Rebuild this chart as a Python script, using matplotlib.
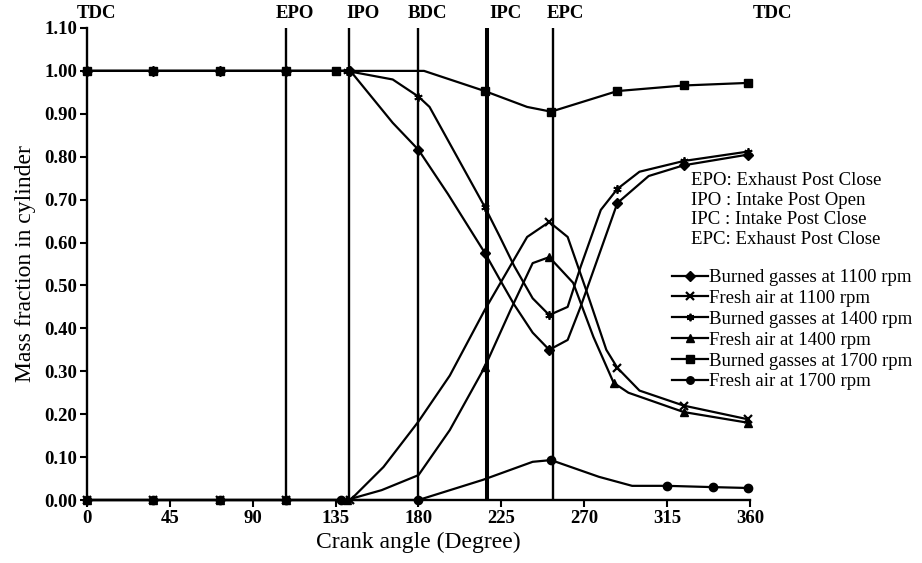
import numpy as np
import matplotlib.pyplot as plt

plt.rcParams['font.family'] = ['Liberation Serif', 'DejaVu Serif']

# crank angle events
event_names = ["TDC", "EPO", "IPO", "BDC", "IPC", "EPC", "TDC"]
event_deg = [0, 108, 142, 180, 217, 253, 360]
event_label_x = [5, 113, 150, 185, 227, 260, 372]

# burned gasses at 1100 rpm
bg1100_x = [0, 36, 72, 108, 143, 166, 180, 196, 216, 224, 232, 242, 251, 261, 268, 279, 288, 305, 324, 359]
bg1100_y = [1, 1, 1, 1, 1, 0.879, 0.816, 0.713, 0.576, 0.515, 0.455, 0.39, 0.35, 0.373, 0.45, 0.583, 0.692, 0.755, 0.78, 0.805]
bg1100_mk = [0, 1, 2, 3, 4, 6, 8, 12, 16, 18, 19]

# fresh air at 1100 rpm
fa1100_x = [0, 36, 72, 108, 143, 161, 180, 197, 216, 239, 251, 261, 271, 282, 288, 300, 324, 359]
fa1100_y = [0, 0, 0, 0, 0, 0.077, 0.183, 0.29, 0.443, 0.613, 0.648, 0.613, 0.49, 0.35, 0.308, 0.255, 0.22, 0.188]
fa1100_mk = [0, 1, 2, 3, 4, 10, 14, 16, 17]

# burned gasses at 1400 rpm
bg1400_x = [0, 36, 72, 108, 141, 166, 180, 186, 216, 224, 232, 242, 251, 261, 268, 279, 288, 300, 324, 359]
bg1400_y = [1, 1, 1, 1, 1, 0.98, 0.94, 0.916, 0.683, 0.615, 0.545, 0.47, 0.431, 0.45, 0.543, 0.676, 0.725, 0.765, 0.79, 0.812]
bg1400_mk = [0, 1, 2, 3, 4, 6, 8, 12, 16, 18, 19]

# fresh air at 1400 rpm
fa1400_x = [0, 36, 72, 108, 141, 160, 180, 197, 216, 230, 242, 251, 264, 275, 286, 294, 324, 359]
fa1400_y = [0, 0, 0, 0, 0, 0.023, 0.058, 0.163, 0.31, 0.443, 0.552, 0.566, 0.506, 0.38, 0.273, 0.25, 0.205, 0.18]
fa1400_mk = [0, 1, 2, 3, 4, 8, 11, 14, 16, 17]

# burned gasses at 1700 rpm
bg1700_x = [0, 36, 72, 108, 135, 183, 216, 239, 252, 288, 324, 359]
bg1700_y = [1, 1, 1, 1, 1, 1, 0.953, 0.916, 0.905, 0.953, 0.966, 0.972]
bg1700_mk = [0, 1, 2, 3, 4, 6, 8, 9, 10, 11]

# fresh air at 1700 rpm
fa1700_x = [0, 36, 72, 108, 138, 180, 215, 242, 252, 278, 296, 315, 340, 359]
fa1700_y = [0, 0, 0, 0, 0, 0, 0.047, 0.089, 0.093, 0.054, 0.033, 0.033, 0.03, 0.028]
fa1700_mk = [0, 1, 2, 3, 4, 5, 8, 11, 12, 13]

fig = plt.figure(figsize=(9.22, 5.63), dpi=100)
ax = fig.add_axes([0.0944, 0.1119, 0.719, 0.8384])

# event lines
for name, d in zip(event_names[1:-1], event_deg[1:-1]):
    lw = 2.9 if name == "IPC" else 1.7
    ax.plot([d, d], [0, 1.10], color='black', lw=lw, zorder=1)
for name, lx in zip(event_names, event_label_x):
    ax.text(lx, 1.133, name, ha='center', va='center', fontsize=13.5,
            fontweight='bold', clip_on=False)

style = dict(color='black', lw=1.6, clip_on=False, zorder=3)
ax.plot(bg1100_x, bg1100_y, marker='D', markevery=bg1100_mk, markersize=5.5,
        label="Burned gasses at 1100 rpm", **style)
ax.plot(fa1100_x, fa1100_y, marker='x', markevery=fa1100_mk, markersize=6, mew=1.6,
        label="Fresh air at 1100 rpm", **style)
ax.plot(bg1400_x, bg1400_y, marker=(6, 2, 0), markevery=bg1400_mk, markersize=6, mew=1.3,
        label="Burned gasses at 1400 rpm", **style)
ax.plot(fa1400_x, fa1400_y, marker='^', markevery=fa1400_mk, markersize=6,
        label="Fresh air at 1400 rpm", **style)
ax.plot(bg1700_x, bg1700_y, marker='s', markevery=bg1700_mk, markersize=6,
        label="Burned gasses at 1700 rpm", **style)
ax.plot(fa1700_x, fa1700_y, marker='o', markevery=fa1700_mk, markersize=6,
        label="Fresh air at 1700 rpm", **style)

ax.set_xlim(0, 360)
ax.set_ylim(0, 1.10)
ax.set_xticks(np.arange(0, 361, 45))
ax.set_yticks(np.arange(0, 1.101, 0.1))
ax.set_yticklabels([f"{v:.2f}" for v in np.arange(0, 1.101, 0.1)])
ax.spines['top'].set_visible(False)
ax.spines['right'].set_visible(False)
ax.spines['left'].set_linewidth(1.7)
ax.spines['bottom'].set_linewidth(1.7)
ax.tick_params(direction='out', length=5, width=1.5, labelsize=13.5, pad=2)
for lbl in ax.get_xticklabels() + ax.get_yticklabels():
    lbl.set_fontweight('bold')

ax.set_xlabel("Crank angle (Degree)", fontsize=17, labelpad=4)
ax.set_ylabel("Mass fraction in cylinder", fontsize=17, labelpad=6)

fig.text(691 / 922, 1 - 172 / 563,
         "EPO: Exhaust Post Close\nIPO : Intake Post Open\nIPC : Intake Post Close\nEPC: Exhaust Post Close",
         ha='left', va='top', fontsize=13.5, linespacing=1.21)

ax.legend(loc='upper left', bbox_to_anchor=(672 / 922, 1 - 269 / 563),
          bbox_transform=fig.transFigure, frameon=False, fontsize=13.5,
          borderpad=0, borderaxespad=0, labelspacing=0.2, handlelength=1.9,
          handletextpad=0.05, markerscale=0.9)

fig.savefig("out.png", dpi=100)
